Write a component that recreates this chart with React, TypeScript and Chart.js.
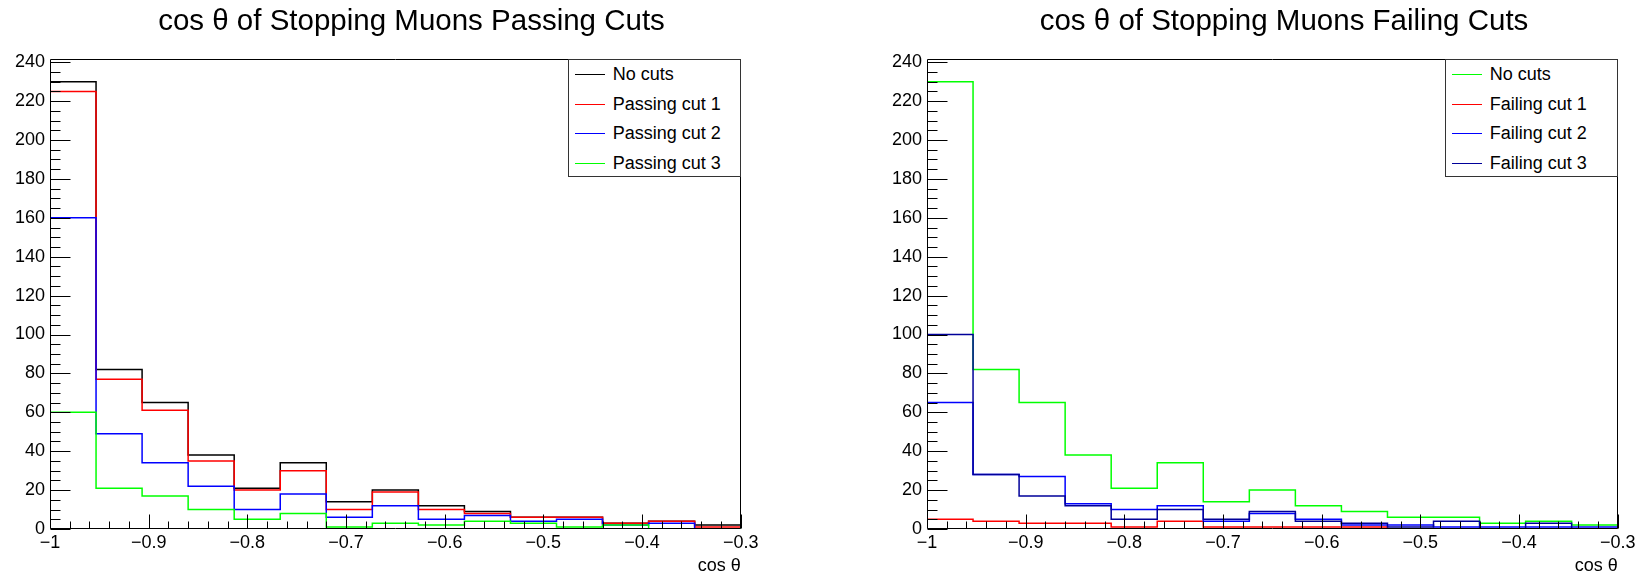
import React, { useEffect, useRef } from "react";
import { Chart, registerables } from "chart.js";

Chart.register(...registerables);

// ---- data ----
const binEdges = [
  -1, -0.95333, -0.90667, -0.86, -0.81333, -0.76667, -0.72, -0.67333,
  -0.62667, -0.58, -0.53333, -0.48667, -0.44, -0.39333, -0.34667, -0.3,
];

const passNoCuts = [230, 82, 65, 38, 21, 34, 14, 20, 12, 9, 6, 6, 3, 4, 2];
const passCut1 = [225, 77, 61, 35, 20, 30, 10, 19, 10, 8, 6, 6, 3, 4, 1];
const passCut2 = [160, 49, 34, 22, 10, 18, 6, 12, 5, 7, 4, 5, 2, 3, 0];
const passCut3 = [60, 21, 17, 10, 5, 8, 1, 3, 2, 4, 3, 1, 2, 0, 0];

const failNoCuts = [230, 82, 65, 38, 21, 34, 14, 20, 12, 9, 6, 6, 3, 4, 2];
const failCut1 = [5, 4, 3, 3, 1, 4, 1, 1, 1, 1, 0, 0, 0, 0, 0];
const failCut2 = [65, 28, 27, 13, 10, 12, 4, 8, 5, 2, 2, 1, 1, 1, 1];
const failCut3 = [100, 28, 17, 12, 5, 10, 5, 9, 4, 3, 1, 4, 0, 3, 0];

const passLabels = ["No cuts", "Passing cut 1", "Passing cut 2", "Passing cut 3"];
const failLabels = ["No cuts", "Failing cut 1", "Failing cut 2", "Failing cut 3"];
const passColors = ["#000000", "#ff0000", "#0000ff", "#00ff00"];
const failColors = ["#00ff00", "#ff0000", "#0000ff", "#000099"];

const passTitle = "cos \u03b8 of Stopping Muons Passing Cuts";
const failTitle = "cos \u03b8 of Stopping Muons Failing Cuts";
const xAxisTitle = "cos \u03b8";

const X_MIN = -1;
const X_MAX = -0.3;
const Y_MAX = 241.5;

const FONT = '"Liberation Sans", Arial, Helvetica, sans-serif';

// ---- plugin: ROOT-like frame with inward ticks ----
const rootFrame = {
  id: "rootFrame",
  afterDatasetsDraw(chart: any) {
    const { ctx, chartArea: a, scales } = chart;
    const xs = scales.x;
    const ys = scales.y;
    ctx.save();
    ctx.strokeStyle = "#000";
    ctx.lineWidth = 1;
    ctx.beginPath();
    const L = Math.round(a.left) + 0.5;
    const R = Math.round(a.right) - 0.5;
    const T = Math.round(a.top) + 0.5;
    const B = Math.round(a.bottom) - 0.5;
    ctx.rect(L, T, R - L, B - T);
    for (let k = 0; k <= 48; k++) {
      const v = k * 5;
      const py = Math.round(ys.getPixelForValue(v)) + 0.5;
      const len = k % 4 === 0 ? 20 : 10;
      ctx.moveTo(L, py);
      ctx.lineTo(L + len, py);
    }
    for (let k = 0; k <= 35; k++) {
      const v = X_MIN + k * 0.02;
      const px = Math.round(xs.getPixelForValue(v)) + 0.5;
      const len = k % 5 === 0 ? 14 : 7;
      ctx.moveTo(px, B);
      ctx.lineTo(px, B - len);
    }
    ctx.stroke();
    ctx.restore();
  },
};

function xLabel(v: any) {
  const n = Math.round(Number(v) * 10) / 10;
  return n < 0 ? "\u2212" + String(Math.abs(n)) : String(n);
}

type HistProps = {
  left: number;
  width: number;
  padRight: number;
  title: string;
  series: number[][];
  labels: string[];
  colors: string[];
  drawOrder: number[];
};

function Hist({ left, width, padRight, title, series, labels, colors, drawOrder }: HistProps) {
  const ref = useRef<HTMLCanvasElement | null>(null);
  useEffect(() => {
    if (!ref.current) return;
    const datasets = drawOrder.map((idx) => ({
      label: labels[idx],
      data: binEdges.map((x, i) => ({ x, y: series[idx][Math.min(i, series[idx].length - 1)] })),
      borderColor: colors[idx],
      backgroundColor: colors[idx],
      borderWidth: 1.5,
      stepped: "before" as const,
      pointRadius: 0,
      fill: false,
      tension: 0,
      yAxisID: "y",
    }));
    const chart = new Chart(ref.current, {
      type: "line",
      data: { datasets },
      plugins: [rootFrame],
      options: {
        animation: false,
        responsive: false,
        layout: { padding: 0 },
        plugins: {
          legend: { display: false },
          tooltip: { enabled: false },
          title: {
            display: true,
            text: title,
            color: "#000",
            font: { family: FONT, size: 29.5, weight: "normal" },
            padding: { top: 4, bottom: 19.9 },
          },
        },
        scales: {
          x: {
            type: "linear",
            min: X_MIN,
            max: X_MAX,
            grid: { display: false, drawTicks: false },
            border: { display: false },
            ticks: {
              stepSize: 0.1,
              color: "#000",
              font: { family: FONT, size: 18 },
              padding: 3,
              maxRotation: 0,
              autoSkip: false,
              callback: (v: any) => xLabel(v),
            },
            title: {
              display: true,
              text: xAxisTitle,
              align: "end",
              color: "#000",
              font: { family: FONT, size: 18 },
              padding: { top: 0, bottom: -3 },
            },
            afterFit: (s: any) => {
              s.height = 45;
            },
          },
          y: {
            type: "linear",
            min: 0,
            max: Y_MAX,
            grid: { display: false, drawTicks: false },
            border: { display: false },
            ticks: {
              stepSize: 20,
              includeBounds: false,
              color: "#000",
              font: { family: FONT, size: 18 },
              padding: 5,
            },
            afterFit: (s: any) => {
              s.width = 50;
            },
          },
          yPad: {
            type: "linear",
            position: "right",
            display: true,
            grid: { display: false, drawTicks: false },
            border: { display: false },
            ticks: { display: false },
            afterFit: (s: any) => {
              s.width = padRight;
            },
          },
        },
      } as any,
    });
    return () => chart.destroy();
  }, []);

  const legendLeft = width - padRight - 173;
  return (
    <div style={{ position: "absolute", left, top: 0, width, height: 574 }}>
      <canvas ref={ref} width={width} height={574} style={{ display: "block" }} />
      <div
        style={{
          position: "absolute",
          left: legendLeft,
          top: 59,
          width: 173,
          height: 118,
          boxSizing: "border-box",
          border: "1px solid #333",
          background: "#fff",
          fontFamily: FONT,
          fontSize: 18,
          color: "#000",
        }}
      >
        {labels.map((lab, i) => (
          <div
            key={lab}
            style={{
              position: "absolute",
              left: 0,
              top: 14 + i * 29.5 - 12,
              height: 24,
              width: 170,
            }}
          >
            <div
              style={{
                position: "absolute",
                left: 6,
                top: 12,
                width: 30,
                height: 0,
                borderTop: `1px solid ${colors[i]}`,
              }}
            />
            <span style={{ position: "absolute", left: 44, top: 0, lineHeight: "24px", whiteSpace: "nowrap" }}>
              {lab}
            </span>
          </div>
        ))}
      </div>
    </div>
  );
}

export default function App() {
  return (
    <div
      style={{
        position: "fixed",
        left: 0,
        top: 0,
        width: 1646,
        height: 574,
        overflow: "hidden",
        background: "#fff",
      }}
    >
      <Hist
        left={0}
        width={823}
        padRight={82.3}
        title={passTitle}
        series={[passNoCuts, passCut1, passCut2, passCut3]}
        labels={passLabels}
        colors={passColors}
        drawOrder={[3, 2, 1, 0]}
      />
      <Hist
        left={877}
        width={814}
        padRight={73.3}
        title={failTitle}
        series={[failNoCuts, failCut1, failCut2, failCut3]}
        labels={failLabels}
        colors={failColors}
        drawOrder={[3, 2, 1, 0]}
      />
    </div>
  );
}
